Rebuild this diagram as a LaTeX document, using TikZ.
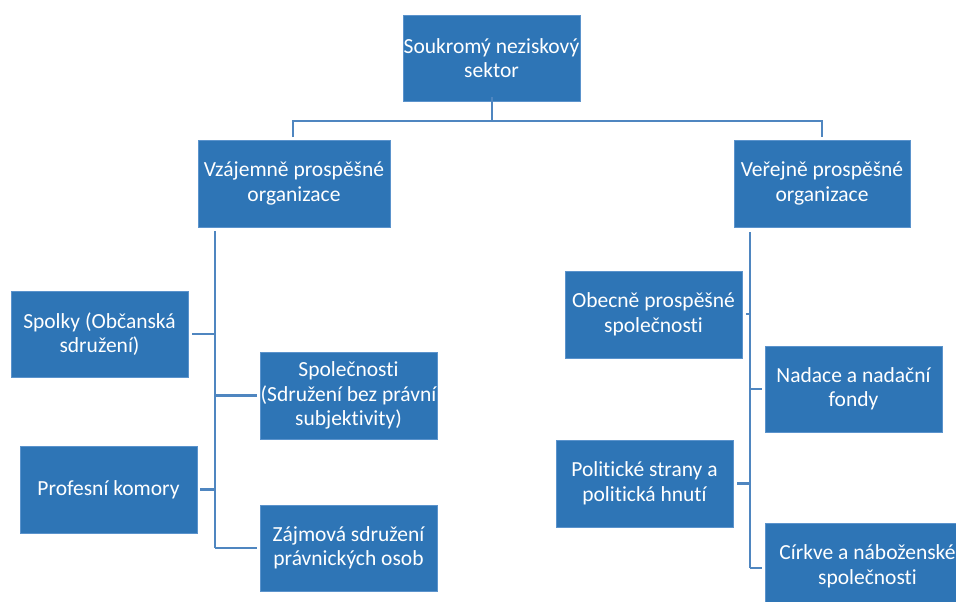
\documentclass[tikz,border=0pt]{standalone}
\usepackage{fontspec}
\setmainfont{Carlito}[Ligatures=NoCommon]
\definecolor{boxblue}{HTML}{2E75B6}
\definecolor{boxedge}{HTML}{5B93CC}
\definecolor{linkblue}{HTML}{4F86C0}
\begin{document}
\begin{tikzpicture}[x=1pt,y=-1pt,
  orgbox/.style={fill=boxblue,draw=boxedge,line width=0.8pt,inner sep=0pt},
  orgtext/.style={text=white,align=center,font=\fontsize{21.5}{24.5}\selectfont,inner sep=0pt},
  link/.style={draw=linkblue,line width=2.2pt}]
\useasboundingbox (0,0) rectangle (956,602);
\newcommand{\orgnode}[6]{\node[orgbox,minimum width=#4-#2,minimum height=#5-#3,
  label={[orgtext]center:{#6}}] (#1) at ({(#2+#4)/2},{(#3+#5)/2}) {};}
\orgnode{root}{403}{15}{580}{101}{Soukromý neziskový\\sektor}
\orgnode{vza}{198}{140}{390}{227}{Vzájemně prospěšné\\organizace}
\orgnode{ver}{734}{140}{910}{227}{Veřejně prospěšné\\organizace}
\orgnode{spo}{11}{291}{188}{377}{Spolky (Občanská\\sdružení)}
\orgnode{spn}{260}{352}{437}{439}{Společnosti\\(Sdružení bez právní\\subjektivity)}
\orgnode{pro}{20}{446}{197}{533}{Profesní komory}
\orgnode{zaj}{260}{505}{437}{591}{Zájmová sdružení\\právnických osob}
\orgnode{obe}{565}{271}{742}{358}{Obecně prospěšné\\společnosti}
\orgnode{nad}{765}{346}{942}{432}{Nadace a nadační\\fondy}
\orgnode{pol}{556}{440}{733}{527}{Politické strany a\\politická hnutí}
\orgnode{cir}{765}{523}{970}{610}{Církve a náboženské\\společnosti}
\coordinate (hub) at (492,121);
\coordinate (lt) at (215,231);
\coordinate (rt) at (750,232);
\draw[link] ([yshift=4pt]root.south -| hub) -- (hub);
\draw[link] (293,137) |- (hub) -| (822,137);
\draw[link] (lt) -- (215,548);
\draw[link] (rt) -- (750,568);
\draw[link] ([xshift=4pt]spo.east) -- (spo.east -| lt);
\draw[link] ([xshift=3pt]pro.east) -- (pro.east -| lt);
\draw[link] (spn.west -| lt) -- ([xshift=-3pt]spn.west);
\draw[link] (215,548) -- ([xshift=-3pt]zaj.west |- 215,548);
\draw[link] (746,314) -- (750,314);
\draw[link] ([xshift=4pt]pol.east) -- (pol.east -| rt);
\draw[link] (nad.west -| rt) -- ([xshift=-3pt]nad.west);
\draw[link] (750,568) -- (762,568);
\end{tikzpicture}
\end{document}
